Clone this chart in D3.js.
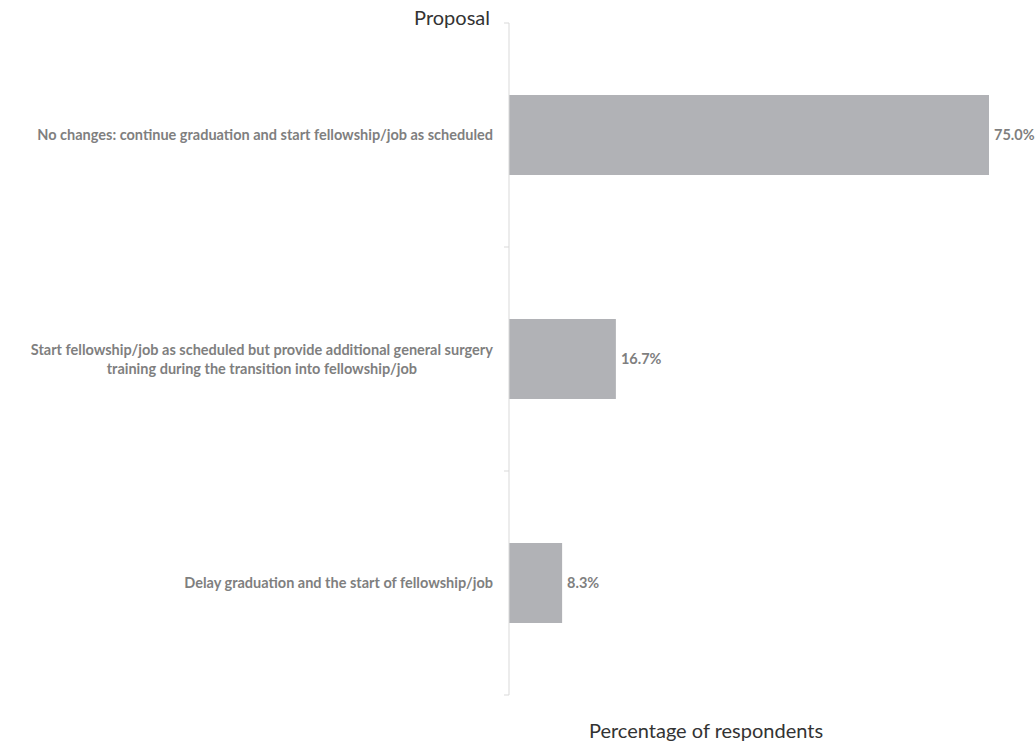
<!DOCTYPE html>
<html lang="en">
  <head>
    <meta charset="utf-8">
    <title>Proposal</title>
    <script src="https://cdn.jsdelivr.net/npm/d3@7"></script>
    <style>
      body { margin: 0; background: #fff; }
      text { font-family: Lato, "Open Sans", sans-serif; }
    </style>
  </head>
  <body>
    <script>
      // data
      var proposals = [
        ["No changes: continue graduation and start fellowship/job as scheduled"],
        ["Start fellowship/job as scheduled but provide additional general surgery", "training during the transition into fellowship/job"],
        ["Delay graduation and the start of fellowship/job"]
      ];
      var percents = [75.0, 16.7, 8.3];

      var w = 1035, h = 743;
      var plotLeft = 509, plotTop = 23, plotBottom = 695;

      var svg = d3.select("body").append("svg")
        .attr("width", w)
        .attr("height", h);

      var yScale = d3.scaleBand()
        .domain(d3.range(percents.length))
        .range([plotTop, plotBottom])
        .paddingInner(0.643)
        .paddingOuter(0.3215);

      var xScale = d3.scaleLinear()
        .domain([0, 75])
        .range([plotLeft, 989]);

      // bars
      svg.selectAll("rect.bar")
        .data(percents)
        .enter()
        .append("rect")
        .attr("class", "bar")
        .attr("x", xScale(0))
        .attr("y", function(d, i) { return yScale(i); })
        .attr("width", function(d) { return xScale(d) - xScale(0); })
        .attr("height", yScale.bandwidth())
        .attr("fill", "#b1b2b6");

      // vertical axis with ticks at band edges
      var step = (plotBottom - plotTop) / percents.length;
      var edges = d3.range(percents.length + 1).map(function(i) { return plotTop + i * step; });
      svg.append("line")
        .attr("x1", plotLeft).attr("x2", plotLeft)
        .attr("y1", plotTop).attr("y2", plotBottom)
        .attr("stroke", "#d9d9d9");
      svg.selectAll("line.tick")
        .data(edges)
        .enter()
        .append("line")
        .attr("class", "tick")
        .attr("x1", plotLeft - 5).attr("x2", plotLeft)
        .attr("y1", function(d) { return d; })
        .attr("y2", function(d) { return d; })
        .attr("stroke", "#d9d9d9");

      // category labels
      svg.selectAll("text.cat")
        .data(proposals)
        .enter()
        .append("text")
        .attr("class", "cat")
        .attr("text-anchor", "middle")
        .attr("font-size", 14.5)
        .attr("font-weight", "bold")
        .attr("fill", "#7f7f7f")
        .each(function(lines, i) {
          var cy = yScale(i) + yScale.bandwidth() / 2;
          var t = d3.select(this);
          var lh = 19;
          lines.forEach(function(s, k) {
            t.append("tspan")
              .attr("x", 0)
              .attr("y", cy + (k - (lines.length - 1) / 2) * lh + 5)
              .text(s);
          });
          // right-align the block, centre each line inside it
          var bw = this.getBBox().width;
          t.selectAll("tspan").attr("x", 493 - bw / 2);
        });

      // value labels
      svg.selectAll("text.val")
        .data(percents)
        .enter()
        .append("text")
        .attr("class", "val")
        .attr("x", function(d) { return xScale(d) + 5; })
        .attr("y", function(d, i) { return yScale(i) + yScale.bandwidth() / 2 + 5; })
        .attr("font-size", 14.5)
        .attr("font-weight", "bold")
        .attr("fill", "#7f7f7f")
        .text(function(d) { return d.toFixed(1) + "%"; });

      // axis titles
      svg.append("text")
        .attr("x", 490).attr("y", 25)
        .attr("text-anchor", "end")
        .attr("font-size", 20)
        .attr("fill", "#333")
        .text("Proposal");

      svg.append("text")
        .attr("x", 706).attr("y", 738)
        .attr("text-anchor", "middle")
        .attr("font-size", 20)
        .attr("fill", "#333")
        .text("Percentage of respondents");
    </script>
  </body>
</html>
